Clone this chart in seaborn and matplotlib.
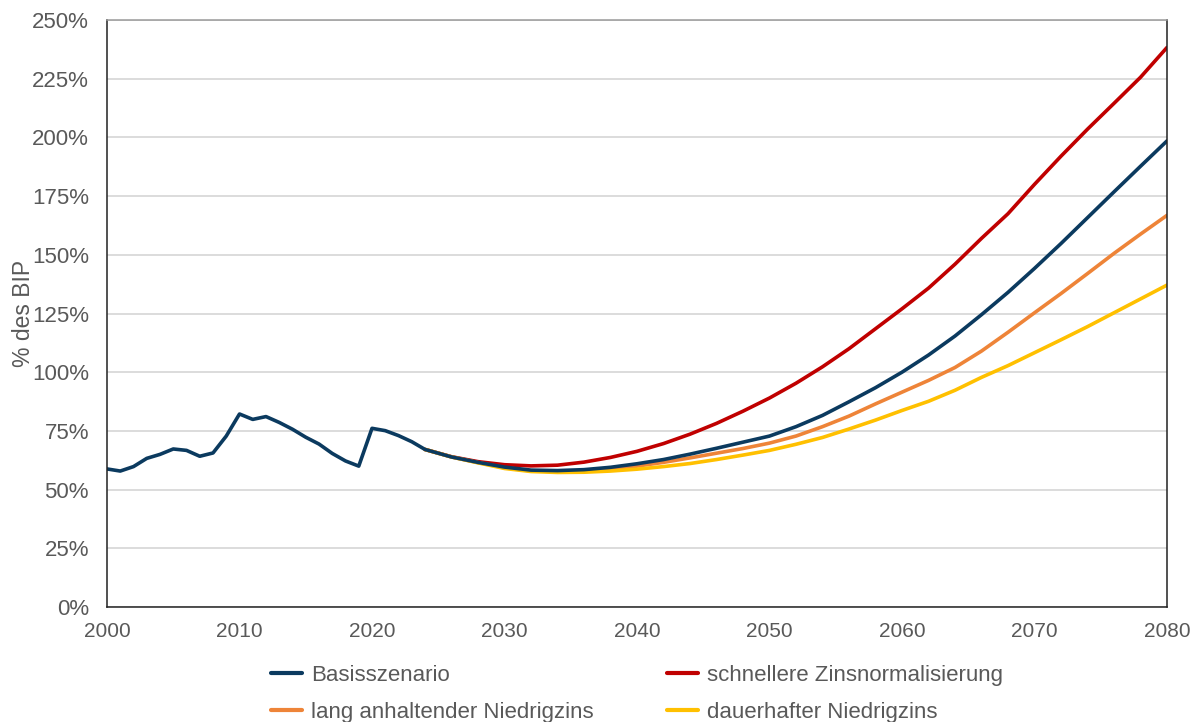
import pandas as pd
import seaborn as sns
import matplotlib.pyplot as plt
from matplotlib.lines import Line2D
from matplotlib.ticker import MultipleLocator, FuncFormatter

# =======================
# Data
# =======================
hist_years = list(range(2000, 2025))
hist_values = [58.8, 57.9, 59.8, 63.3, 65.0, 67.3, 66.7, 64.2, 65.6, 72.8,
               82.2, 79.9, 81.1, 78.6, 75.7, 72.3, 69.4, 65.4, 62.2, 60.0,
               76.1, 75.1, 73.0, 70.4, 67.1]

proj_years = list(range(2024, 2081, 2))
basis = [67.1, 63.9, 61.6, 59.6, 58.3, 58.1, 58.5, 59.5, 61.0, 62.8,
         65.1, 67.6, 70.2, 72.8, 76.8, 81.6, 87.4, 93.4, 100.0, 107.3,
         115.4, 124.5, 134.0, 144.2, 154.8, 165.8, 176.8, 187.7, 198.5]
schnell = [67.1, 64.0, 61.9, 60.6, 60.1, 60.4, 61.7, 63.7, 66.3, 69.6,
           73.6, 78.2, 83.4, 89.0, 95.3, 102.3, 110.0, 118.5, 127.0, 135.8,
           146.0, 157.0, 167.5, 180.0, 192.0, 203.5, 214.5, 225.6, 238.3]
lang = [67.1, 63.9, 61.5, 59.3, 58.0, 57.7, 58.1, 58.9, 60.0, 61.6,
        63.5, 65.5, 67.5, 69.8, 72.8, 76.8, 81.3, 86.5, 91.5, 96.5,
        102.0, 109.0, 117.0, 125.3, 133.5, 142.0, 150.6, 158.8, 166.8]
dauer = [67.1, 63.9, 61.4, 59.0, 57.7, 57.3, 57.4, 57.9, 58.7, 59.8,
         61.1, 62.8, 64.7, 66.7, 69.3, 72.2, 75.8, 79.6, 83.7, 87.6,
         92.3, 97.8, 102.8, 108.3, 113.8, 119.4, 125.3, 131.2, 137.1]

labels = ["Basisszenario", "schnellere Zinsnormalisierung",
          "lang anhaltender Niedrigzins", "dauerhafter Niedrigzins"]
colors = {"Basisszenario": "#0b3a5f",
          "schnellere Zinsnormalisierung": "#c00000",
          "lang anhaltender Niedrigzins": "#ee8438",
          "dauerhafter Niedrigzins": "#ffc000"}

# long table for seaborn
frames = [
    pd.DataFrame({"Jahr": hist_years + proj_years[1:],
                  "Wert": hist_values + basis[1:], "Szenario": labels[0]}),
    pd.DataFrame({"Jahr": proj_years, "Wert": schnell, "Szenario": labels[1]}),
    pd.DataFrame({"Jahr": proj_years, "Wert": lang, "Szenario": labels[2]}),
    pd.DataFrame({"Jahr": proj_years, "Wert": dauer, "Szenario": labels[3]}),
]
df = pd.concat(frames, ignore_index=True)

# =======================
# Plot
# =======================
sns.set_style("white")
plt.rcParams['font.family'] = ['Liberation Sans', 'DejaVu Sans']
text_color = "#595959"

fig = plt.figure(figsize=(12, 7.22), dpi=100)
ax = fig.add_axes([107 / 1200, 1 - 607 / 722, 1060 / 1200, 587 / 722])

draw_order = [labels[1], labels[2], labels[3], labels[0]]
sns.lineplot(data=df, x="Jahr", y="Wert", hue="Szenario", hue_order=draw_order,
             palette=colors, linewidth=2.6, legend=False, ax=ax)

ax.set_xlim(2000, 2080)
ax.set_ylim(0, 250)
ax.xaxis.set_major_locator(MultipleLocator(10))
ax.xaxis.set_minor_locator(MultipleLocator(1))
ax.yaxis.set_major_locator(MultipleLocator(25))
ax.yaxis.set_major_formatter(FuncFormatter(lambda v, p: f"{int(v)}%"))

ax.grid(axis="y", color="#d9d9d9", linewidth=1.3)
ax.grid(axis="x", visible=False)
ax.set_axisbelow(True)

for side in ["left", "bottom", "right"]:
    ax.spines[side].set_color("#222222")
    ax.spines[side].set_linewidth(1.1)
ax.spines["top"].set_color("#9a9a9a")
ax.spines["top"].set_linewidth(1.1)

ax.tick_params(axis="x", which="both", direction="out", length=5, width=1,
               color="#222222", labelsize=15, labelcolor=text_color, pad=6)
ax.tick_params(axis="y", length=0, labelsize=16, labelcolor=text_color, pad=13)

ax.set_xlabel("")
ax.set_ylabel("% des BIP", fontsize=16.5, color=text_color)
ax.yaxis.set_label_coords(-0.068, 0.5)

# legend: row 1 Basis / schnellere, row 2 lang / dauerhaft
legend_order = [labels[0], labels[2], labels[1], labels[3]]
handles = [Line2D([0], [0], color=colors[l], linewidth=3) for l in legend_order]
fig.legend(handles, legend_order, loc="center", ncol=2,
           bbox_to_anchor=(0.531, 0.039), frameon=False, fontsize=16,
           labelcolor=text_color, handlelength=1.4, handletextpad=0.4,
           columnspacing=3.3, labelspacing=0.7)

plt.savefig("out.png", dpi=100)
